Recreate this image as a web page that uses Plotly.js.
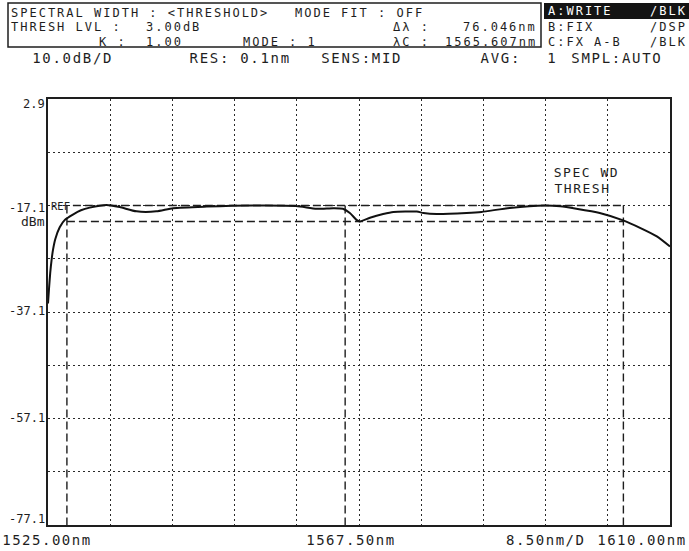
<!DOCTYPE html>
<html>
<head>
<meta charset="utf-8">
<script src="https://cdn.plot.ly/plotly-3.0.1.min.js"></script>
<style>
  html, body { margin: 0; padding: 0; background: #ffffff; }
  #chart { width: 689px; height: 551px; }
</style>
<style id="spacing"></style>
</head>
<body>
<div id="chart"></div>
<script>
// ---------------- data ----------------
const wavelengthNm = [
  1525.00, 1525.15, 1525.30, 1525.50, 1525.70, 1526.00, 1526.60, 1527.30, 1528.40, 1529.50,
  1530.70, 1533.00, 1534.80, 1537.10, 1539.80, 1542.10, 1546.70, 1553.00, 1558.90, 1561.70,
  1564.00, 1565.30, 1566.25, 1567.16, 1567.60, 1569.00, 1570.80, 1572.20, 1575.40, 1576.30,
  1578.10, 1582.20, 1584.25, 1588.10, 1592.90, 1595.00, 1597.20, 1600.40, 1603.60, 1605.90,
  1608.20, 1610.00
];
const powerDbm = [
  -35.5, -32.5, -29.8, -27.2, -25.3, -23.4, -21.2, -19.8, -18.8, -18.0,
  -17.5, -17.0, -17.4, -18.2, -18.2, -17.6, -17.3, -17.1, -17.2, -17.7,
  -17.6, -17.7, -18.5, -19.8, -20.1, -19.4, -18.7, -18.3, -18.25, -18.5,
  -18.7, -18.5, -18.3, -17.55, -17.1, -17.25, -17.7, -18.5, -19.9, -21.3,
  -22.9, -24.8
];

const xRange = [1525.0, 1610.0];
const yRange = [-77.1, 2.9];
const xDivision = 8.5;    // nm / D
const yDivision = 10.0;   // dB / D

const refLevelDbm = -17.1;
const threshLevelDb = 3.00;
const lambdaCenter = 1565.607;
const deltaLambda = 76.046;
const refLineStart = 1528.4;

const yTickValues = [2.9, -17.1, -37.1, -57.1, -77.1];
const yTickLabels = ["2.9", "-17.1", "-37.1", "-57.1", "-77.1"];
const xTickLabels = ["1525.00nm", "1567.50nm", "8.50nm/D", "1610.00nm"];

const headerRow1 = ["SPECTRAL WIDTH : <THRESHOLD>", "MODE FIT : OFF"];
const headerRow2 = ["THRESH LVL :", "3.00dB", "Δλ :", "76.046nm"];
const headerRow3 = ["K :", "1.00", "MODE : 1", "λC :", "1565.607nm"];
const tracePanel = [["A:WRITE", "/BLK"], ["B:FIX", "/DSP"], ["C:FX A-B", "/BLK"]];
const settingsRow = ["10.0dB/D", "RES: 0.1nm", "SENS:MID", "AVG:", "1", "SMPL:AUTO"];
const markerLabels = ["SPEC WD", "THRESH"];

// ---------------- layout helpers ----------------
const W = 689, H = 551;
const M = { l: 48, r: 19, t: 99, b: 26 };
const PW = W - M.l - M.r, PH = H - M.t - M.b;
const px = x => (x - M.l) / PW;
const py = y => (H - M.b - y) / PH;

const FONT = "DejaVu Sans Mono, Liberation Mono, monospace";
const INK = "#1e1e1e";

const annotations = [];
const spacingRules = [];
// letter-spacing widens the text symmetrically around Plotly's measured centre,
// so the anchor position is corrected by half the added width.
function ann(text, x, y, o, spacing) {
  o = o || {};
  let xx = x;
  if (spacing) {
    const extra = text.length * spacing / 2;
    xx = (o.xanchor === "right") ? x - extra : x + extra;
  }
  const a = Object.assign({
    text: text, xref: "paper", yref: "paper", x: px(xx), y: py(y),
    xanchor: "left", yanchor: "middle", showarrow: false, borderpad: 0
  }, o);
  a.font = Object.assign({ family: FONT, size: 12, color: INK }, o.font || {});
  if (spacing) spacingRules.push('#chart g.annotation[data-index="' + annotations.length +
    '"] text { letter-spacing: ' + spacing + 'px; }');
  annotations.push(a);
}

const threshDbm = refLevelDbm - threshLevelDb;
const lamLeft = lambdaCenter - deltaLambda / 2;
const lamRight = lambdaCenter + deltaLambda / 2;

// ---------------- traces ----------------
const dashStyle = { color: INK, width: 1.4, dash: "8px,4px" };
const traces = [
  { x: [refLineStart, lamRight], y: [refLevelDbm, refLevelDbm],
    mode: "lines", line: dashStyle, hoverinfo: "skip" },
  { x: [lamLeft, lamRight], y: [threshDbm, threshDbm],
    mode: "lines", line: dashStyle, hoverinfo: "skip" },
  { x: [lamLeft, lamLeft, null, lambdaCenter, lambdaCenter, null, lamRight, lamRight],
    y: [refLevelDbm, yRange[0], null, refLevelDbm, yRange[0], null, refLevelDbm, yRange[0]],
    mode: "lines", line: dashStyle, hoverinfo: "skip" },
  { x: wavelengthNm, y: powerDbm, mode: "lines",
    line: { color: "#111", width: 2, shape: "spline", smoothing: 0.6 } }
];

// ---------------- annotations ----------------
const HS = 2.0;  // header letter spacing
ann(headerRow1[0], 10, 12.5, {}, HS);
ann(headerRow1[1], 294, 12.5, {}, HS);
ann(headerRow2[0], 10, 27, {}, HS);
ann(headerRow2[1], 145, 27, {}, HS);
ann(headerRow2[2], 392, 27, {}, HS);
ann(headerRow2[3], 538, 27, { xanchor: "right" }, HS);
ann(headerRow3[0], 98, 41.5, {}, HS);
ann(headerRow3[1], 145, 41.5, {}, HS);
ann(headerRow3[2], 242, 41.5, {}, HS);
ann(headerRow3[3], 392, 41.5, {}, HS);
ann(headerRow3[4], 538, 41.5, { xanchor: "right" }, HS);
// trace panel
const panelY = [11, 27, 41.5];
tracePanel.forEach((row, i) => {
  const col = i === 0 ? "#ffffff" : INK;
  ann(row[0], 547, panelY[i], { font: { color: col } }, HS);
  ann(row[1], 649, panelY[i], { font: { color: col } }, HS);
});
// settings row
const settingsX = [31, 188, 320, 480, 546, 570];
settingsRow.forEach((t, i) => ann(t, settingsX[i], 58, { font: { size: 14 } }, 1.7));
// y tick labels
const yLabelPos = [104, 208, 311, 418, 519];
yTickValues.forEach((v, i) => ann(yTickLabels[i], 46, yLabelPos[i], { xanchor: "right", font: { size: 12 } }));
ann("dBm", 46, 222, { xanchor: "right", font: { size: 13 } });
ann("REF", 50, 206, { font: { size: 10.5 } });
// x tick labels
ann(xTickLabels[0], 1, 540, { font: { size: 14 } }, 1.5);
ann(xTickLabels[1], 305, 540, { font: { size: 14 } }, 1.5);
ann(xTickLabels[2], 505, 540, { font: { size: 14 } }, 1.5);
ann(xTickLabels[3], 688, 540, { xanchor: "right", font: { size: 14 } }, 1.5);
// marker labels
ann(markerLabels[0], 553, 172, { font: { size: 13 } }, 1.5);
ann(markerLabels[1], 553, 188, { font: { size: 13 } }, 1.5);

document.getElementById("spacing").textContent = spacingRules.join("\n");

// ---------------- shapes ----------------
const shapes = [
  { type: "rect", xref: "paper", yref: "paper", x0: px(8), x1: px(541), y0: py(3), y1: py(47),
    line: { color: INK, width: 1.5 }, fillcolor: "rgba(0,0,0,0)", layer: "below" },
  { type: "rect", xref: "paper", yref: "paper", x0: px(544), x1: px(689), y0: py(3), y1: py(19),
    line: { width: 0 }, fillcolor: "#141414", layer: "below" }
];

const gridStyle = { showgrid: true, gridcolor: "#2a2a2a", gridwidth: 1, griddash: "2px,3px" };

const layout = {
  width: W, height: H,
  margin: M,
  paper_bgcolor: "#ffffff", plot_bgcolor: "#ffffff",
  showlegend: false,
  xaxis: Object.assign({
    range: xRange, tickmode: "linear", tick0: xRange[0], dtick: xDivision,
    showticklabels: false, ticks: "", zeroline: false,
    showline: true, mirror: true, linecolor: INK, linewidth: 1.6
  }, gridStyle),
  yaxis: Object.assign({
    range: yRange, tickmode: "linear", tick0: yRange[1], dtick: yDivision,
    showticklabels: false, ticks: "", zeroline: false,
    showline: true, mirror: true, linecolor: INK, linewidth: 1.6
  }, gridStyle),
  annotations: annotations,
  shapes: shapes
};

Plotly.newPlot("chart", traces, layout, { staticPlot: true, displayModeBar: false });
</script>
</body>
</html>
